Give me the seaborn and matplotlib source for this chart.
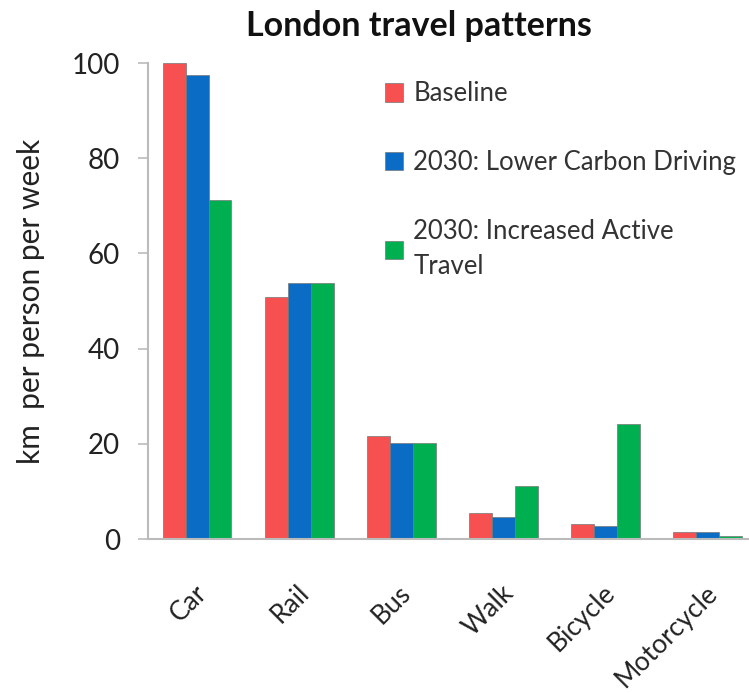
import matplotlib
matplotlib.use("Agg")
import matplotlib.pyplot as plt
import matplotlib.transforms as mtransforms
import seaborn as sns
import pandas as pd

categories = ["Car", "Rail", "Bus", "Walk", "Bicycle", "Motorcycle"]
series_names = ["Baseline", "2030: Lower Carbon Driving", "2030: Increased Active\nTravel"]
baseline = [100, 50.8, 21.7, 5.4, 3.1, 1.4]
lower_carbon = [97.4, 53.7, 20.3, 4.7, 2.8, 1.4]
active_travel = [71.2, 53.7, 20.3, 11.1, 24.2, 0.7]
colors = ["#F65050", "#0A6CC4", "#00B050"]

rows = []
for name, vals in zip(series_names, [baseline, lower_carbon, active_travel]):
    for c, v in zip(categories, vals):
        rows.append({"mode": c, "series": name, "value": v})
df = pd.DataFrame(rows)

sns.set_theme(style="white")
plt.rcParams['font.family'] = ['Lato', 'DejaVu Sans']

fig = plt.figure(figsize=(7.49, 6.93), dpi=100)
ax = fig.add_axes([0.1976, 0.222, 0.81, 0.687])
sns.barplot(data=df, x="mode", y="value", hue="series", order=categories,
            hue_order=series_names, palette=colors, width=0.675, gap=0,
            edgecolor="#777777", linewidth=0.5, ax=ax, saturation=1)

ax.set_ylim(0, 100)
ax.set_xlim(-0.48, 5.46)
ax.set_yticks([0, 20, 40, 60, 80, 100])
ax.tick_params(axis='y', labelsize=20, labelcolor="#222222", length=7, width=1.2,
               color="#BBBBBB", left=True, pad=13)
ax.tick_params(axis='x', labelsize=19, labelcolor="#222222", length=0, pad=0)
offset = mtransforms.ScaledTranslation(6 / 100, -50 / 100, fig.dpi_scale_trans)
for lbl in ax.get_xticklabels():
    lbl.set_rotation(45)
    lbl.set_ha('right')
    lbl.set_va('center')
    lbl.set_rotation_mode('anchor')
    lbl.set_transform(lbl.get_transform() + offset)
ax.set_xlabel("")
ax.set_ylabel("km  per person per week", fontsize=21.5, color="#222222")
ax.yaxis.set_label_coords(-0.17, 0.5)
for s in ["top", "right"]:
    ax.spines[s].set_visible(False)
for s in ["left", "bottom"]:
    ax.spines[s].set_color("#BBBBBB")
    ax.spines[s].set_linewidth(1.5)

leg = ax.legend(loc="upper left", bbox_to_anchor=(0.352, 1.01), frameon=False,
                fontsize=18.5, labelspacing=1.7, handlelength=0.72, handleheight=0.72,
                handletextpad=0.4)
for t in leg.get_texts():
    t.set_color("#333333")
    t.set_linespacing(1.5)

fig.text(0.559, 0.962, "London travel patterns", ha="center", va="center",
         fontsize=24.5, fontweight="bold", color="#111111")

fig.savefig("out.png", dpi=100)
